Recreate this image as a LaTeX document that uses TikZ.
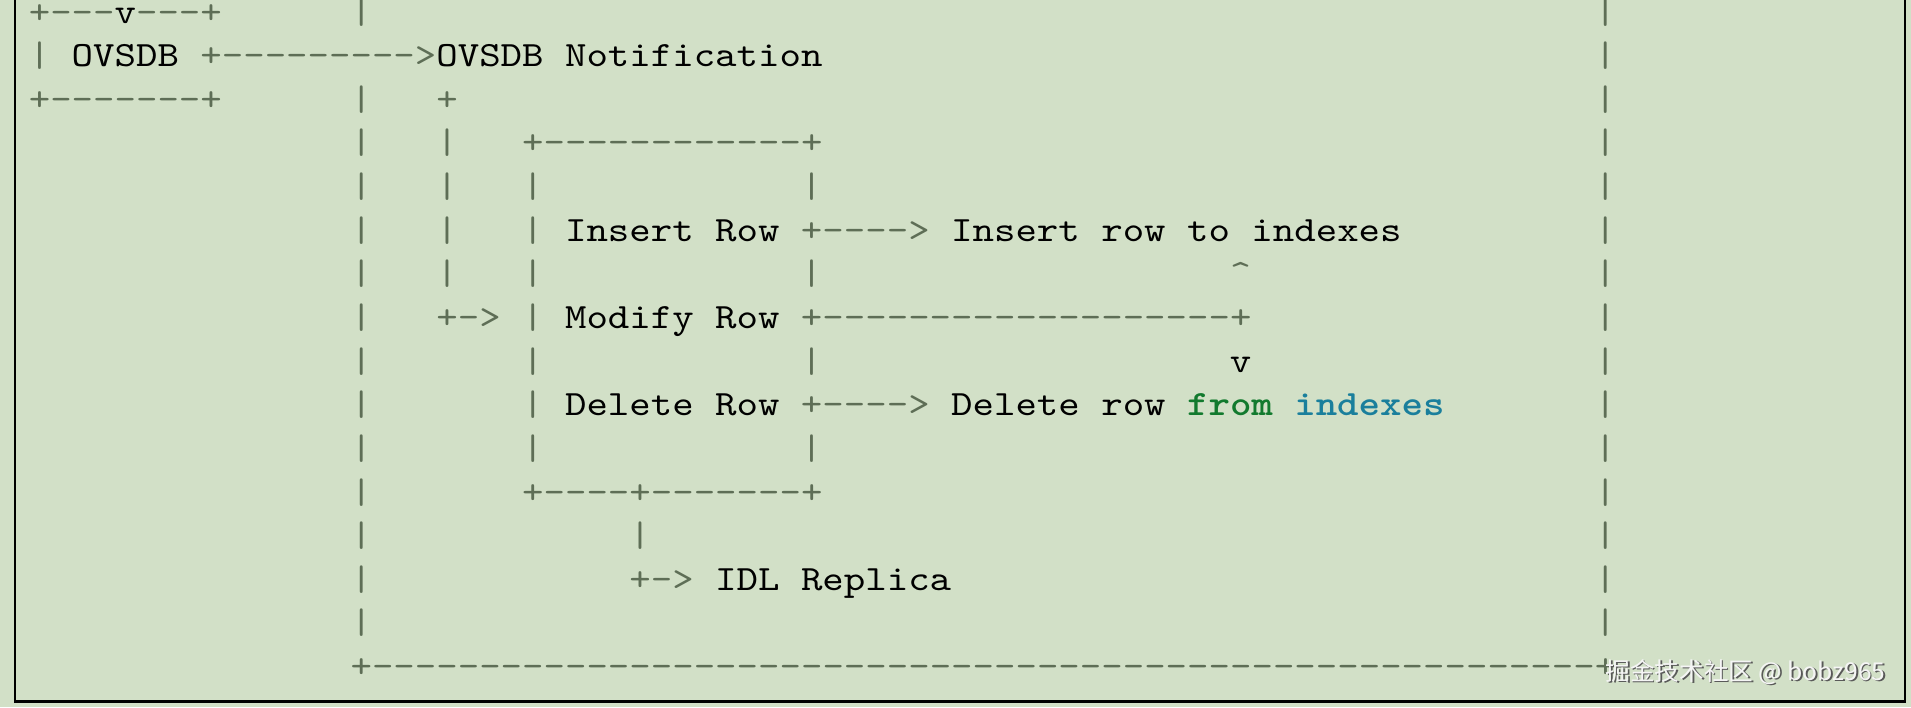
\documentclass[tikz,border=0pt]{standalone}
\usepackage{fontspec}
\usepackage{tikz}
\newfontfamily\asciifont{lmmono10-regular.otf}[FakeStretch=1.15, BoldFont=lmmonolt10-bold.otf]
\newfontfamily\cjkfont{Noto Sans CJK SC}
\definecolor{paper}{HTML}{D2E0C7}
\definecolor{symcol}{HTML}{5E6E56}
\definecolor{kwgreen}{HTML}{127A2E}
\definecolor{kwteal}{HTML}{1A7F9C}

\begin{document}
\begin{tikzpicture}[
    txt/.style={anchor=base west, inner sep=0pt, outer sep=0pt,
        font=\fontsize{10.11pt}{12pt}\asciifont},
    sym/.style={txt, text=symcol},
    word/.style={txt, text=black},
    kw/.style={txt, font=\fontsize{10.11pt}{12pt}\asciifont\bfseries}]
    \useasboundingbox (0,0) rectangle (191.1mm,-70.7mm);
    \fill[paper] (0,0) rectangle (191.1mm,-70.7mm);
    \draw[line width=0.25mm] (1.5mm,1mm) -- (1.5mm,-70.15mm) -- (190.5mm,-70.15mm) -- (190.5mm,1mm);

    \begin{scope}[shift={(2.88mm,-2.31mm)}, x=6.103pt, y=-4.363mm]
    % outer frame
    \foreach \r in {0,2,3,...,14} \node[sym] (outl-\r) at (15,\r) {|};
    \foreach \r in {0,...,14} \node[sym] (outr-\r) at (73,\r) {|};
    \node[sym] (outbot) at (15,15) {+\foreach \i in {1,...,57}{-}+};

    % ovsdb box
    \node[sym] (dbtopl) at (0,0) {+---};
    \node[word] (dbtopv) at (4,0) {v};
    \node[sym] (dbtopr) at (5,0) {---+};
    \node[sym] (dbside) at (0,1) {|};
    \node[word] (db) at (2,1) {OVSDB};
    \node[sym] (dbarrow) at (8,1) {+--------->};
    \node[word] (notif) at (19,1) {OVSDB Notification};
    \node[sym] (dbbot) at (0,2) {+-------+};

    % notification branch
    \node[sym] (notifplus) at (19,2) {+};
    \foreach \r in {3,...,6} \node[sym] (nline-\r) at (19,\r) {|};
    \node[sym] (notifarrow) at (19,7) {+->};

    % row box
    \node[sym] (rowtop) at (23,3) {+------------+};
    \foreach \r in {4,...,10} \node[sym] (rowl-\r) at (23,\r) {|};
    \foreach \r in {4,6,8,10} \node[sym] (rowr-\r) at (36,\r) {|};
    \node[sym] (rowbot) at (23,11) {+----+-------+};

    \node[word] (insert) at (25,5) {Insert Row};
    \node[sym] (insarrow) at (36,5) {+---->};
    \node[word] (insidx) at (43,5) {Insert row to indexes};

    \node[sym] (up) at (56,6) {\textasciicircum};
    \node[word] (modify) at (25,7) {Modify Row};
    \node[sym] (modline) at (36,7) {+-------------------+};
    \node[word] (down) at (56,8) {v};

    \node[word] (delete) at (25,9) {Delete Row};
    \node[sym] (delarrow) at (36,9) {+---->};
    \node[word] (delidx) at (43,9) {Delete row};
    \node[kw, text=kwgreen] (delfrom) at (54,9) {from};
    \node[kw, text=kwteal] (delidx2) at (59,9) {indexes};

    % replica
    \node[sym] (repline) at (28,12) {|};
    \node[sym] (reparrow) at (28,13) {+->};
    \node[word] (replica) at (32,13) {IDL Replica};
    \end{scope}

    \node[anchor=west, inner sep=0pt, text=black!65, font=\fontsize{7pt}{8pt}\cjkfont] (markshadow) at (160.65mm,-67.35mm) {掘金技术社区 @ bobz965};
    \node[anchor=west, inner sep=0pt, text=white!96!black, font=\fontsize{7pt}{8pt}\cjkfont] (mark) at (160.5mm,-67.2mm) {掘金技术社区 @ bobz965};
\end{tikzpicture}
\end{document}
